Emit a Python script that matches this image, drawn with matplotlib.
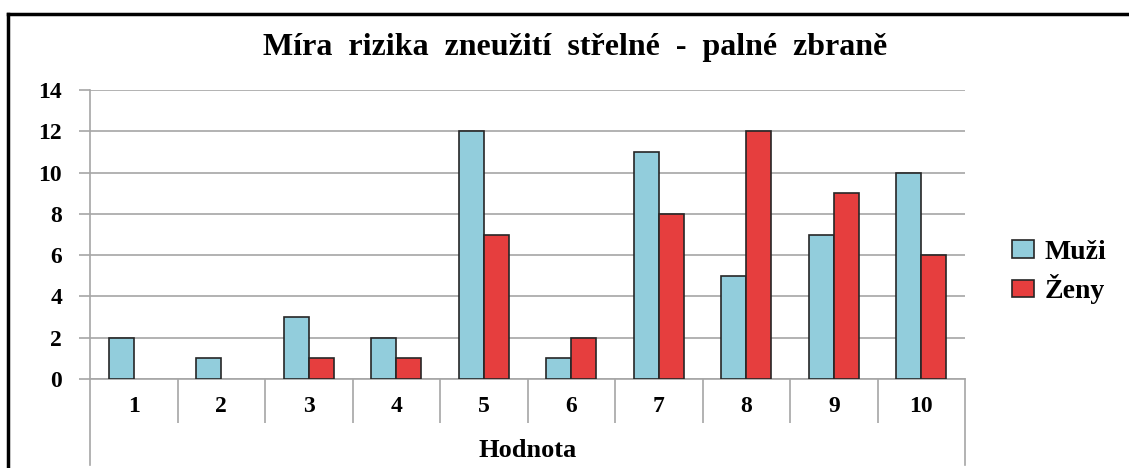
import numpy as np
import matplotlib.pyplot as plt
from matplotlib.lines import Line2D
from matplotlib.patches import Patch

# data
categories = ['1', '2', '3', '4', '5', '6', '7', '8', '9', '10']
muzi = [2, 1, 3, 2, 12, 1, 11, 5, 7, 10]
zeny = [0, 0, 1, 1, 7, 2, 8, 12, 9, 6]
series_names = ['Muži', 'Ženy']

plt.rcParams['font.family'] = ['Liberation Serif', 'DejaVu Serif']
plt.rcParams['font.weight'] = 'bold'

fig = plt.figure(figsize=(11.29, 4.68), dpi=100)
ax = fig.add_axes([90 / 1129, 89 / 468, 875 / 1129, 289 / 468])

x = np.arange(1, len(categories) + 1)
w = 0.286
blue = '#92CDDC'
red = '#E63E3E'
edge = '#262626'
# no outline on empty bars
ax.bar(x - w / 2, muzi, w, color=blue, edgecolor=edge,
       linewidth=[1.2 if v else 0 for v in muzi], zorder=3)
ax.bar(x + w / 2, zeny, w, color=red, edgecolor=edge,
       linewidth=[1.2 if v else 0 for v in zeny], zorder=3)

ax.set_xlim(0.5, len(categories) + 0.5)
ax.set_ylim(0, 14)
ax.set_yticks(range(0, 15, 2))
ax.yaxis.grid(True, color='#A6A6A6', linewidth=1.2)
ax.set_axisbelow(True)

for s in ['top', 'right']:
    ax.spines[s].set_visible(False)
ax.spines['left'].set_color('#A6A6A6')
ax.spines['bottom'].set_color('#A6A6A6')
ax.spines['left'].set_linewidth(1.2)
ax.spines['bottom'].set_linewidth(1.2)

ax.tick_params(axis='y', length=8, color='#A6A6A6', width=1.2,
               labelsize=17, pad=12)

# category separators as major ticks, labels on minor ticks
ax.set_xticks(np.arange(1.5, len(categories), 1.0))
ax.set_xticklabels([])
ax.tick_params(axis='x', which='major', direction='out', length=32,
               color='#A6A6A6', width=1.2)
ax.set_xticks(x, minor=True)
ax.set_xticklabels(categories, minor=True)
ax.tick_params(axis='x', which='minor', length=0, labelsize=17, pad=12)

# outer lines of the category axis run down past the axis title
for e in [0.5, len(categories) + 0.5]:
    ax.axvline(e, ymin=-0.2976, ymax=0, color='#A6A6A6', linewidth=1.2,
               clip_on=False)

ax.set_xlabel('Hodnota', fontsize=19, fontweight='bold', labelpad=8)

fig.text(575 / 1129, 1 - 47 / 468, 'Míra  rizika  zneužití  střelné  -  palné  zbraně',
         ha='center', va='center', fontsize=23, fontweight='bold')

handles = [Patch(facecolor=blue, edgecolor=edge, linewidth=1.2),
           Patch(facecolor=red, edgecolor=edge, linewidth=1.2)]
ax.legend(handles, series_names, loc='center left', bbox_to_anchor=(1.054, 0.37),
          frameon=False, fontsize=20, handlelength=0.8, handleheight=0.6,
          handletextpad=0.35, labelspacing=0.35, borderpad=0, borderaxespad=0)

# figure border (top and left edges visible)
fig.add_artist(Line2D([8 / 1129, 8 / 1129], [0, 1 - 14 / 468],
                      transform=fig.transFigure, color='black', linewidth=2.5))
fig.add_artist(Line2D([8 / 1129, 1], [1 - 14 / 468, 1 - 14 / 468],
                      transform=fig.transFigure, color='black', linewidth=2.5))

fig.savefig('out.png', dpi=100)
